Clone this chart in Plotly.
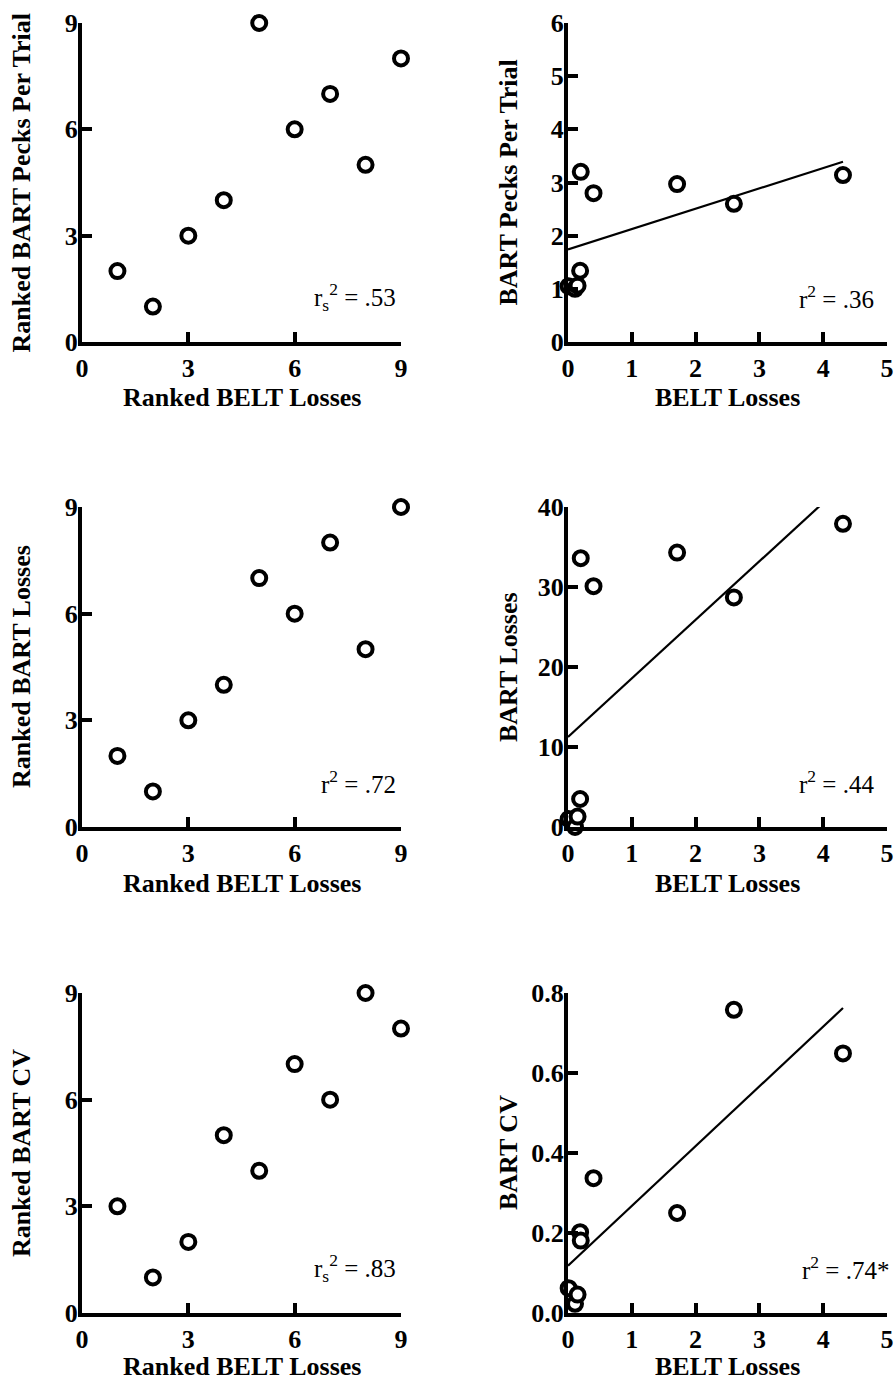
import plotly.graph_objects as go

# ---------------- data ----------------
belt_rank = [1, 2, 3, 4, 5, 6, 7, 8, 9]
rank_pecks = [2, 1, 3, 4, 9, 6, 7, 5, 8]
rank_losses = [2, 1, 3, 4, 7, 6, 8, 5, 9]
rank_cv = [3, 1, 2, 5, 4, 7, 6, 9, 8]

belt_losses = [0.01, 0.11, 0.15, 0.19, 0.20, 0.40, 1.71, 2.60, 4.31]
bart_pecks = [1.05, 1.00, 1.06, 1.34, 3.20, 2.80, 2.97, 2.60, 3.14]
bart_losses = [1.0, 0.0, 1.3, 3.5, 33.6, 30.1, 34.3, 28.7, 37.9]
bart_cv = [0.062, 0.023, 0.046, 0.202, 0.181, 0.337, 0.250, 0.758, 0.649]

# regression lines (intercept, slope)
fit_pecks = (1.74, 0.383)
fit_losses = (11.25, 7.32)
fit_cv = (0.118, 0.1495)

stats_text = ["r<sub>s</sub><sup>2</sup> = .53", "r<sup>2</sup> = .36",
              "r<sup>2</sup> = .72", "r<sup>2</sup> = .44",
              "r<sub>s</sub><sup>2</sup> = .83", "r<sup>2</sup> = .74*"]
y_titles = ["Ranked BART Pecks Per Trial", "BART Pecks Per Trial",
            "Ranked BART Losses", "BART Losses",
            "Ranked BART CV", "BART CV"]
x_titles = ["Ranked BELT Losses", "BELT Losses"]

rank_ticks = [0, 3, 6, 9]
belt_ticks = [0, 1, 2, 3, 4, 5]
pecks_ticks = [0, 1, 2, 3, 4, 5, 6]
losses_ticks = [0, 10, 20, 30, 40]
cv_ticks = [0.0, 0.2, 0.4, 0.6, 0.8]

# ---------------- layout geometry (pixels) ----------------
W, H = 894, 1382
col_px = [(82, 401), (568, 887)]
row_px = [(23, 342), (507, 827), (993, 1313)]
xtitle_gap = [56, 56, 53]

FONT = "Liberation Serif"

def xd(a, b):
    return [a / W, b / W]

def yd(top, bot):
    return [1 - bot / H, 1 - top / H]

fig = go.Figure()

panels = [
    dict(x=belt_rank, y=rank_pecks, xr=[0, 9], yr=[0, 9], xt=rank_ticks, yt=rank_ticks, fit=None, fmt=None),
    dict(x=belt_losses, y=bart_pecks, xr=[0, 5], yr=[0, 6], xt=belt_ticks, yt=pecks_ticks, fit=fit_pecks, fmt=None),
    dict(x=belt_rank, y=rank_losses, xr=[0, 9], yr=[0, 9], xt=rank_ticks, yt=rank_ticks, fit=None, fmt=None),
    dict(x=belt_losses, y=bart_losses, xr=[0, 5], yr=[0, 40], xt=belt_ticks, yt=losses_ticks, fit=fit_losses, fmt=None),
    dict(x=belt_rank, y=rank_cv, xr=[0, 9], yr=[0, 9], xt=rank_ticks, yt=rank_ticks, fit=None, fmt=None),
    dict(x=belt_losses, y=bart_cv, xr=[0, 5], yr=[0, 0.8], xt=belt_ticks, yt=cv_ticks, fit=fit_cv, fmt=".1f"),
]

tickfont = dict(family=FONT, size=26, color="black", weight="bold")
annotations = []

for i, p in enumerate(panels):
    r, c = divmod(i, 2)
    n = i + 1
    xa = "x" if n == 1 else f"x{n}"
    ya = "y" if n == 1 else f"y{n}"
    axcommon = dict(showline=True, linewidth=4, linecolor="black",
                    ticks="inside", ticklen=10, tickwidth=4, tickcolor="black",
                    showgrid=False, zeroline=False, tickfont=tickfont,
                    automargin=False)
    fig.layout[f"xaxis{'' if n == 1 else n}"] = dict(
        domain=xd(*col_px[c]), range=p["xr"], tickvals=p["xt"], anchor=ya, **axcommon)
    ydict = dict(domain=yd(*row_px[r]), range=p["yr"], tickvals=p["yt"], anchor=xa,
                 ticklabelstandoff=-5, **axcommon)
    if p["fmt"]:
        ydict["tickformat"] = p["fmt"]
    fig.layout[f"yaxis{'' if n == 1 else n}"] = ydict

    if p["fit"]:
        b0, b1 = p["fit"]
        xs = [0, max(p["x"])]
        fig.add_trace(go.Scatter(x=xs, y=[b0 + b1 * v for v in xs], mode="lines",
                                 line=dict(color="black", width=2.2),
                                 xaxis=xa, yaxis=ya, showlegend=False, hoverinfo="skip"))
    fig.add_trace(go.Scatter(x=p["x"], y=p["y"], mode="markers",
                             marker=dict(symbol="circle", size=14, color="white",
                                         line=dict(color="black", width=4)),
                             cliponaxis=False, xaxis=xa, yaxis=ya, showlegend=False))

    x0, x1 = col_px[c]
    top, bot = row_px[r]
    right_px = 398 if c == 0 else 876
    if i == 5:
        right_px = 891
    annotations.append(dict(text=stats_text[i], xref="paper", yref="paper",
                            x=right_px / W, y=1 - (bot - 45) / H,
                            xanchor="right", yanchor="middle", showarrow=False,
                            font=dict(family=FONT, size=25, color="black")))
    ytx = 21 if c == 0 else 508
    annotations.append(dict(text=y_titles[i], xref="paper", yref="paper",
                            x=ytx / W, y=1 - ((top + bot) / 2) / H, textangle=-90,
                            xanchor="center", yanchor="middle", showarrow=False,
                            font=dict(family=FONT, size=26, color="black", weight="bold")))
    annotations.append(dict(text=x_titles[c], xref="paper", yref="paper",
                            x=((x0 + x1) / 2) / W, y=1 - (bot + xtitle_gap[r]) / H,
                            xanchor="center", yanchor="middle", showarrow=False,
                            font=dict(family=FONT, size=26, color="black", weight="bold")))

fig.update_layout(template="none", width=W, height=H,
                  margin=dict(l=0, r=0, t=0, b=0, autoexpand=False),
                  paper_bgcolor="white", plot_bgcolor="white",
                  annotations=annotations, showlegend=False)

fig.write_html("out.html")
